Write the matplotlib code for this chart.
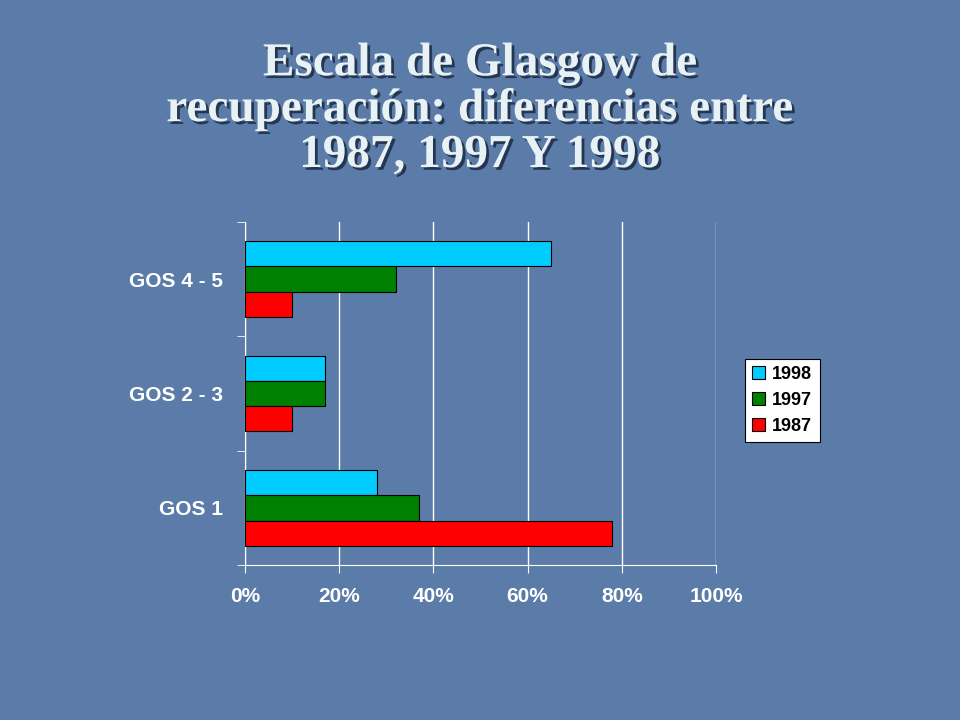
import matplotlib
matplotlib.use("Agg")
import matplotlib.pyplot as plt
import matplotlib.patheffects as pe
import numpy as np

categories = ["GOS 1", "GOS 2 - 3", "GOS 4 - 5"]
series = ["1998", "1997", "1987"]
values = {
    "1998": [28, 17, 65],
    "1997": [37, 17, 32],
    "1987": [78, 10, 10],
}
colors = {"1998": "#00CCFF", "1997": "#008000", "1987": "#FF0000"}

BG = "#5B7CA8"
fig = plt.figure(figsize=(9.6, 7.2), dpi=100, facecolor=BG)

fig.text(0.5, 0.847, "Escala de Glasgow de\nrecuperación: diferencias entre\n1987, 1997 Y 1998",
         ha="center", va="center", fontsize=34, fontweight="bold", family="Liberation Serif",
         color="#E8F2F4", linespacing=1.12,
         path_effects=[pe.withSimplePatchShadow(offset=(2, -2), shadow_rgbFace="#1F2F4A", alpha=0.9)])

ax = fig.add_axes([0.255, 0.215, 0.491, 0.477])
ax.set_facecolor("none")
y = np.arange(len(categories))
h = 0.22
for k, s in enumerate(series):
    ax.barh(y + (1 - k) * h, values[s], h, color=colors[s], edgecolor="black",
            linewidth=0.8, label=s, zorder=3)

ax.set_xlim(0, 100)
ax.set_ylim(-0.5, 2.5)
ax.set_xticks(np.arange(0, 101, 20))
ax.set_xticklabels([f"{v}%" for v in range(0, 101, 20)])
ax.set_yticks(y)
ax.set_yticklabels(categories)
ax.set_yticks([-0.5, 0.5, 1.5, 2.5], minor=True)
ax.tick_params(axis="y", which="major", length=0, pad=16)
ax.tick_params(axis="y", which="minor", length=6, color="white", direction="out")
ax.tick_params(axis="x", length=6, color="white", direction="out", pad=10)
for lbl in ax.get_xticklabels() + ax.get_yticklabels():
    lbl.set_color("white")
    lbl.set_fontsize(15)
    lbl.set_fontweight("bold")
    lbl.set_family("Liberation Sans")
ax.grid(axis="x", color="white", linewidth=1, zorder=0)
for side in ["top", "right"]:
    ax.spines[side].set_visible(False)
for side in ["left", "bottom"]:
    ax.spines[side].set_color("white")

leg = fig.legend(loc="center", bbox_to_anchor=(0.815, 0.444), frameon=True,
                 fancybox=False, edgecolor="black", framealpha=1, handlelength=0.7,
                 handleheight=0.7, prop={"family": "Liberation Sans", "size": 13, "weight": "bold"},
                 borderpad=0.4, labelspacing=0.5, handletextpad=0.4)
leg.get_frame().set_facecolor("white")
leg.get_frame().set_linewidth(0.8)
for p in leg.get_patches():
    p.set_edgecolor("black")

fig.savefig("out.png", dpi=100, facecolor=BG)
